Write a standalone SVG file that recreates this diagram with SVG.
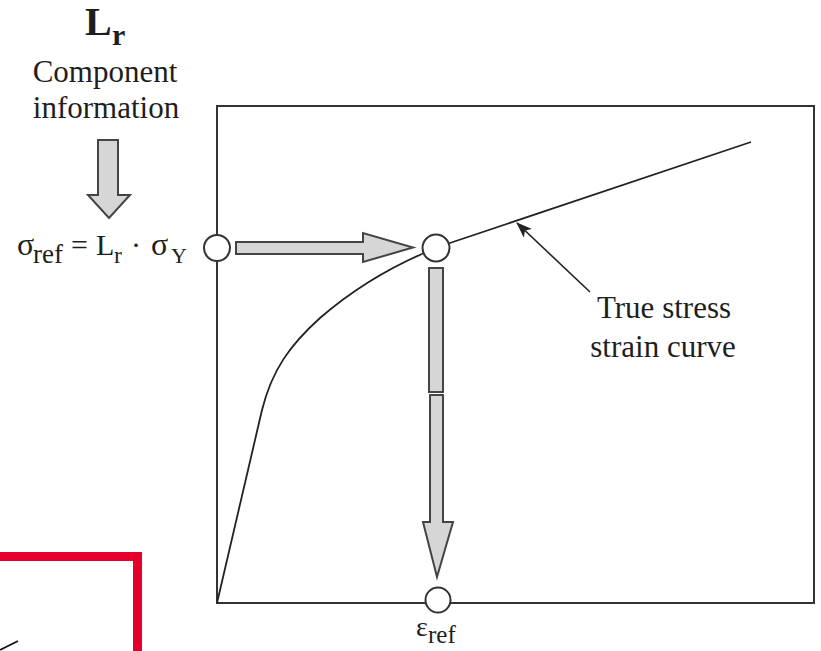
<svg xmlns="http://www.w3.org/2000/svg" width="821" height="651" viewBox="0 0 821 651">
<style>
text{font-family:"Liberation Serif","Times New Roman",serif;fill:#1e1e1e}
.lbl{font-size:31px}
.ln{fill:none;stroke:#222;stroke-width:1.8}
.node{fill:#fff;stroke:#333;stroke-width:2}
.fat{fill:#d6d6d6;stroke:#444;stroke-width:2;stroke-linejoin:miter}
</style>
<defs>
<marker id="ah" viewBox="0 0 16 12" refX="15" refY="6" markerWidth="16" markerHeight="12" markerUnits="userSpaceOnUse" orient="auto">
<path d="M0,0 L16,6 L0,12 L4,6 Z" fill="#222"/>
</marker>
</defs>
<rect width="821" height="651" fill="#fff"/>
<g id="plot-frame">
<rect x="217" y="106" width="597" height="497" fill="none" stroke="#333" stroke-width="2"/>
</g>
<g id="curve">
<path class="ln" d="M217,603 L262,410 C272,370 290,345 320,318 C350,292 385,270 424,253"/>
<path class="ln" d="M435,248 L751,142"/>
</g>
<g id="connectors">
<polygon class="fat" points="98,140 118,140 118,195 130,195 109,218 88,195 98,195"/>
<polygon class="fat" points="236,242 363,242 363,233 413,247.5 363,262 363,254 236,254"/>
<rect class="fat" x="429" y="268" width="14" height="124"/>
<polygon class="fat" points="430,395 443,395 443,522 453,522 437,577 423,522 430,522"/>
<line x1="590" y1="292" x2="517" y2="223" stroke="#222" stroke-width="1.6" marker-end="url(#ah)"/>
</g>
<g id="node-sigma-axis"><circle class="node" cx="217" cy="248" r="13"/></g>
<g id="node-intersection"><circle class="node" cx="436" cy="248" r="13.5"/></g>
<g id="node-eps-axis"><circle class="node" cx="438" cy="600" r="12.5"/></g>
<g id="title-Lr">
<text x="85" y="35" font-size="40" font-weight="bold">L</text>
<text x="112" y="45" font-size="30" font-weight="bold">r</text>
</g>
<g id="component-info">
<text x="105" y="82" style="font-family:'Liberation Serif',serif;font-size:31px" text-anchor="middle">Component</text>
<text x="106" y="118" style="font-family:'Liberation Serif',serif;font-size:31px" text-anchor="middle">information</text>
</g>
<g id="formula">
<text x="17" y="255" font-size="32">σ</text>
<text x="33" y="263" font-size="27">ref</text>
<text x="71" y="255" font-size="30">=</text>
<text x="96" y="255" font-size="30">L</text>
<text x="114" y="263" font-size="24">r</text>
<text x="131" y="255" font-size="30">·</text>
<text x="151" y="255" font-size="32">σ</text>
<text x="171" y="263" font-size="22">Y</text>
</g>
<g id="curve-label">
<text class="lbl" x="664" y="318" text-anchor="middle">True stress</text>
<text class="lbl" x="663" y="357" text-anchor="middle">strain curve</text>
</g>
<g id="eps-label">
<text x="416" y="636" font-size="28">ε</text>
<text x="428" y="643" font-size="25">ref</text>
</g>
<g id="fragments">
<polyline points="0,556.5 137.5,556.5 137.5,651" fill="none" stroke="#e4002b" stroke-width="9"/>
<line x1="18" y1="641" x2="0" y2="650" stroke="#111" stroke-width="1.8"/>
</g>
</svg>
